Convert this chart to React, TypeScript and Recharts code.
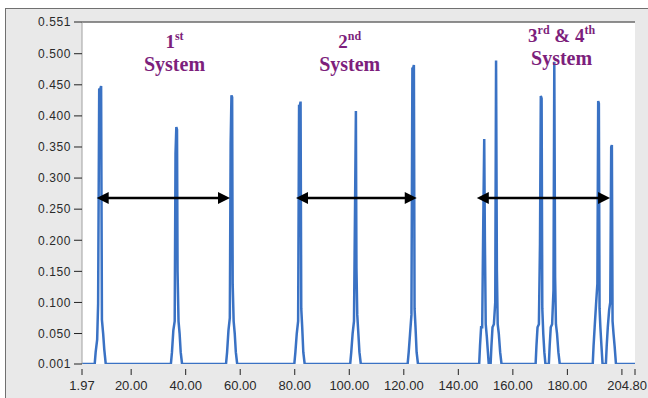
import React from 'react';
import { LineChart, Line, XAxis, YAxis, ReferenceLine, ReferenceDot, CartesianGrid } from 'recharts';

// Peak groups: [x, intensity]
const system1Points: [number, number][] = [
  [6.63, 0.001], [6.98, 0.02], [7.53, 0.04], [7.88, 0.098], [8.28, 0.444], [8.53, 0.441], [8.98, 0.448], [9.28, 0.072], [9.73, 0.05], [10.13, 0.025], [10.68, 0.001],
  [34.57, 0.001], [34.97, 0.02], [35.47, 0.055], [35.97, 0.07], [36.27, 0.339], [36.57, 0.382], [36.82, 0.378], [37.02, 0.15], [37.37, 0.07], [37.77, 0.05], [38.17, 0.02], [38.67, 0.001],
  [54.79, 0.001], [55.19, 0.02], [55.69, 0.055], [56.19, 0.075], [56.49, 0.355], [56.79, 0.433], [57.04, 0.43], [57.24, 0.129], [57.59, 0.07], [57.99, 0.05], [58.39, 0.02], [58.89, 0.001],
];

const system2Points: [number, number][] = [
  [79.84, 0.001], [80.24, 0.02], [80.74, 0.05], [81.24, 0.07], [81.59, 0.418], [81.84, 0.415], [82.14, 0.423], [82.39, 0.09], [82.74, 0.06], [83.14, 0.02], [83.64, 0.001],
  [100.33, 0.001], [100.73, 0.02], [101.23, 0.05], [101.73, 0.07], [102.13, 0.26], [102.43, 0.408], [102.63, 0.156], [102.93, 0.08], [103.33, 0.05], [103.73, 0.02], [104.23, 0.001],
  [121.4, 0.001], [121.8, 0.02], [122.3, 0.05], [122.8, 0.08], [123.15, 0.478], [123.4, 0.476], [123.7, 0.482], [123.95, 0.09], [124.3, 0.06], [124.7, 0.02], [125.2, 0.001],
];

const system34Points: [number, number][] = [
  [147.65, 0.001], [147.95, 0.03], [148.35, 0.06], [148.75, 0.06], [149.15, 0.231], [149.5, 0.363], [149.75, 0.197], [150.05, 0.065], [150.45, 0.045], [150.85, 0.02], [151.15, 0.001],
  [151.84, 0.001], [152.14, 0.03], [152.54, 0.06], [153.04, 0.065], [153.54, 0.1], [153.84, 0.489], [154.14, 0.153], [154.44, 0.065], [154.84, 0.05], [155.34, 0.02], [155.84, 0.001],
  [168.35, 0.001], [168.65, 0.03], [169.05, 0.06], [169.55, 0.065], [169.95, 0.194], [170.25, 0.432], [170.55, 0.428], [170.8, 0.09], [171.15, 0.05], [171.55, 0.02], [171.95, 0.001],
  [173.2, 0.001], [173.5, 0.03], [173.9, 0.06], [174.4, 0.065], [174.9, 0.12], [175.2, 0.487], [175.5, 0.14], [175.8, 0.065], [176.2, 0.05], [176.7, 0.02], [177.2, 0.001],
  [189.3, 0.001], [189.6, 0.03], [190.0, 0.06], [190.5, 0.096], [191.0, 0.13], [191.3, 0.424], [191.55, 0.42], [191.8, 0.09], [192.1, 0.06], [192.5, 0.03], [192.9, 0.001],
  [194.12, 0.001], [194.42, 0.03], [194.82, 0.06], [195.32, 0.088], [195.72, 0.1], [196.07, 0.35], [196.32, 0.353], [196.57, 0.07], [196.92, 0.05], [197.32, 0.03], [197.82, 0.001],
];

const xDomain: [number, number] = [1.97, 204.8];
const yDomain: [number, number] = [0.001, 0.551];
const xTicks = [1.97, 20, 40, 60, 80, 100, 120, 140, 160, 180, 200, 204.8];
const xTickLabels = ['1.97', '20.00', '40.00', '60.00', '80.00', '100.00', '120.00', '140.00', '160.00', '180.00', '', '204.80'];
const yTicks = [0.001, 0.05, 0.1, 0.15, 0.2, 0.25, 0.3, 0.35, 0.4, 0.45, 0.5, 0.551];

const arrowSpans: [number, number][] = [[7.36, 56.26], [80.47, 124.75], [146.77, 195.66]];
const arrowLevel = 0.268;

const systemLabels = [
  { x: 35.9, y: 0.472, num: '1', sup: 'st', rest: '', sup2: '' },
  { x: 100.17, y: 0.472, num: '2', sup: 'nd', rest: '', sup2: '' },
  { x: 177.87, y: 0.482, num: '3', sup: 'rd', rest: ' & 4', sup2: 'th' },
];

const data = [
  { x: xDomain[0], y: 0.001 },
  ...[...system1Points, ...system2Points, ...system34Points].map(([x, y]) => ({ x, y })),
  { x: xDomain[1], y: 0.001 },
];

const PURPLE = '#7d1f7c';
const SERIF = '"Liberation Serif", "Times New Roman", serif';

const ArrowShape = (p: any) => {
  const x1 = Math.min(p.x1, p.x2);
  const x2 = Math.max(p.x1, p.x2);
  const y = p.y1;
  const h = 12;
  const w = 6;
  return (
    <g>
      <line x1={x1 + h - 2} y1={y} x2={x2 - h + 2} y2={y} stroke="#000" strokeWidth={2.5} />
      <polygon points={`${x1},${y} ${x1 + h},${y - w} ${x1 + h},${y + w}`} fill="#000" />
      <polygon points={`${x2},${y} ${x2 - h},${y - w} ${x2 - h},${y + w}`} fill="#000" />
    </g>
  );
};

const makeLabelShape = (lab: typeof systemLabels[number]) => (p: any) => {
  const { cx, cy } = p;
  return (
    <g fontFamily={SERIF} fontWeight="bold" fill={PURPLE}>
      <text x={cx} y={cy - 23} textAnchor="middle" fontSize={19}>
        <tspan>{lab.num}</tspan>
        <tspan fontSize={12} dy={-8}>{lab.sup}</tspan>
        {lab.rest ? <tspan fontSize={19} dy={8}>{lab.rest}</tspan> : null}
        {lab.sup2 ? <tspan fontSize={12} dy={-8}>{lab.sup2}</tspan> : null}
      </text>
      <text x={cx} y={cy} textAnchor="middle" fontSize={20}>System</text>
    </g>
  );
};

const XTick = (p: any) => {
  const { x, y, index } = p;
  const label = xTickLabels[index] ?? '';
  const isLast = index === xTickLabels.length - 1;
  return (
    <g>
      <line x1={x} y1={y + 5} x2={x} y2={y + 11} stroke="#222" strokeWidth={1} />
      {label ? (
        <text
          x={isLast ? 647 : x} y={y + 26} textAnchor={isLast ? 'end' : 'middle'}
          fontSize={13} fill="#2a2a2a" fontFamily='"Liberation Sans", Arial, sans-serif'
        >
          {label}
        </text>
      ) : null}
    </g>
  );
};

export default function App() {
  return (
    <div style={{ position: 'absolute', left: 0, top: 0, width: 648, height: 398, background: '#fff', overflow: 'hidden' }}>
      <div
        style={{
          position: 'absolute', left: 5, top: 8, width: 660, height: 400,
          background: '#e9e9e9', borderTop: '1px solid #707070', borderLeft: '1px solid #707070',
        }}
      />
      <div style={{ position: 'absolute', left: 0, top: 0 }}>
        <LineChart width={648} height={398} data={data} margin={{ top: 22, right: 13, bottom: 4, left: 12 }}>
          <CartesianGrid fill="#ffffff" horizontal={false} vertical={false} />
          <XAxis
            dataKey="x" type="number" domain={xDomain} ticks={xTicks} interval={0}
            height={30} axisLine={false} tickLine={false} tickSize={0} tickMargin={0}
            tick={<XTick />} allowDataOverflow
          />
          <YAxis
            type="number" domain={yDomain} ticks={yTicks} interval={0} width={70}
            axisLine={{ stroke: '#a0a0a0' }} tickLine={{ stroke: '#222' }} tickSize={8} tickMargin={3}
            tickFormatter={(v: number) => v.toFixed(3)}
            tick={{ fontSize: 12, fill: '#2a2a2a', fontFamily: '"Liberation Sans", Arial, sans-serif', letterSpacing: 0.6 }}
            allowDataOverflow
          />
          <ReferenceLine y={yDomain[1]} stroke="#6a6a6a" strokeWidth={1.5} />
          <Line dataKey="y" type="linear" stroke="#3a72c4" strokeWidth={2.5} dot={false} isAnimationActive={false} />
          {arrowSpans.map(([a, b], i) => (
            <ReferenceLine key={'ar' + i} segment={[{ x: a, y: arrowLevel }, { x: b, y: arrowLevel }]} shape={ArrowShape} />
          ))}
          {systemLabels.map((lab, i) => (
            <ReferenceDot key={'lb' + i} x={lab.x} y={lab.y} r={0} shape={makeLabelShape(lab)} />
          ))}
        </LineChart>
      </div>
    </div>
  );
}
